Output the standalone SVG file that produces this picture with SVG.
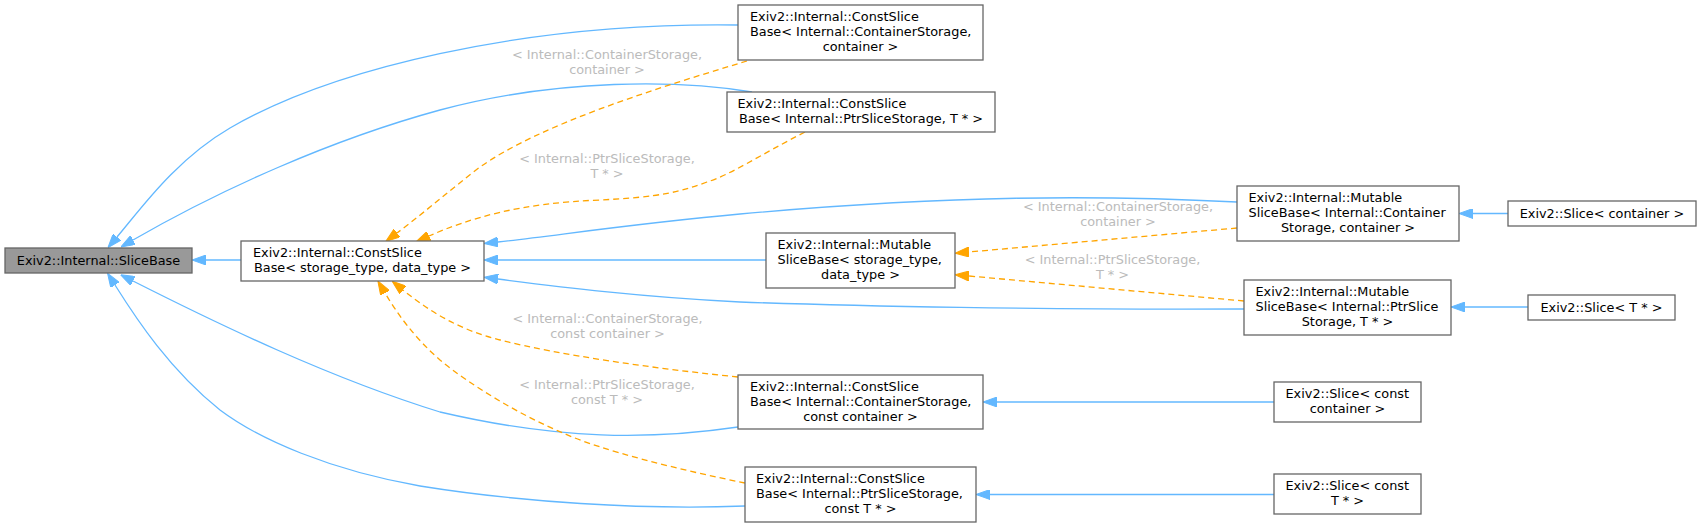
<svg xmlns="http://www.w3.org/2000/svg" width="1701" height="527" viewBox="0 0 1701 527">
<style>
.node rect{fill:#ffffff;stroke:#666666;stroke-width:1.3}
.node.root rect{fill:#999999}
text{font-family:"DejaVu Sans","Liberation Sans",sans-serif;font-size:12.85px;fill:#000000}
.m{text-anchor:middle}
.lbl{fill:#bbbbbb;text-anchor:middle}
.inh{fill:none;stroke:#63b8ff;stroke-width:1.3}
.tpl{fill:none;stroke:#ffa500;stroke-width:1.3;stroke-dasharray:6,4}
</style>
<defs>
<marker id="ab" viewBox="0 0 14 10" refX="0" refY="5" markerWidth="14" markerHeight="10" markerUnits="userSpaceOnUse" orient="auto"><path d="M0,0 L14,5 L0,10 z" fill="#63b8ff" stroke="#63b8ff" stroke-width="1"/></marker>
<marker id="ao" viewBox="0 0 14 10" refX="0" refY="5" markerWidth="14" markerHeight="10" markerUnits="userSpaceOnUse" orient="auto"><path d="M0,0 L14,5 L0,10 z" fill="#ffa500" stroke="#ffa500" stroke-width="1"/></marker>
</defs>
<rect width="1701" height="527" fill="#ffffff"/>
<g id="connectors">
<path class="inh" marker-end="url(#ab)" d="M241,260 L206,260"/>
<path class="inh" marker-end="url(#ab)" d="M738,25 C520,22 330,70 230,128 C175,160 140,210 117,237"/>
<path class="inh" marker-end="url(#ab)" d="M752,92 C680,80 560,78 440,110 C330,140 220,190 133,240"/>
<path class="inh" marker-end="url(#ab)" d="M738,427 C650,440 560,440 440,412 C330,378 220,325 133,281"/>
<path class="inh" marker-end="url(#ab)" d="M745,506 C640,510 520,502 420,486 C330,470 260,440 220,410 C170,370 137,320 115,285"/>
<path class="inh" marker-end="url(#ab)" d="M766,260 L498,260"/>
<path class="inh" marker-end="url(#ab)" d="M1237,202 C1100,195 950,195 740,214 C640,223 560,235 498,242"/>
<path class="inh" marker-end="url(#ab)" d="M1244,309 C1050,310 850,306 740,302 C640,297 560,287 498,279"/>
<path class="inh" marker-end="url(#ab)" d="M1508,213.5 L1473,213.5"/>
<path class="inh" marker-end="url(#ab)" d="M1528,307 L1465,307"/>
<path class="inh" marker-end="url(#ab)" d="M1274,402 L997,402"/>
<path class="inh" marker-end="url(#ab)" d="M1274,494.5 L990,494.5"/>
<path class="tpl" marker-end="url(#ao)" d="M747,61 C650,90 540,125 480,167 C450,190 425,212 397,233"/>
<path class="tpl" marker-end="url(#ao)" d="M805,132 C760,155 730,175 707,182 C680,192 660,197 600,200 C520,203 470,218 429,236"/>
<path class="tpl" marker-end="url(#ao)" d="M738,377 C650,368 560,355 500,340 C460,330 430,312 403,290"/>
<path class="tpl" marker-end="url(#ao)" d="M745,483 C680,470 600,450 563,433 C520,415 470,385 440,360 C415,338 398,315 385,293"/>
<path class="tpl" marker-end="url(#ao)" d="M1237,228 L969,252"/>
<path class="tpl" marker-end="url(#ao)" d="M1244,301 L969,276"/>
<text class="lbl" x="607" y="59">&lt; Internal::ContainerStorage,</text>
<text class="lbl" x="607" y="74">container &gt;</text>
<text class="lbl" x="607" y="163">&lt; Internal::PtrSliceStorage,</text>
<text class="lbl" x="607" y="178">T * &gt;</text>
<text class="lbl" x="607.5" y="323">&lt; Internal::ContainerStorage,</text>
<text class="lbl" x="607.5" y="338">const container &gt;</text>
<text class="lbl" x="607" y="389">&lt; Internal::PtrSliceStorage,</text>
<text class="lbl" x="607" y="404">const T * &gt;</text>
<text class="lbl" x="1118" y="211">&lt; Internal::ContainerStorage,</text>
<text class="lbl" x="1118" y="226">container &gt;</text>
<text class="lbl" x="1112.5" y="264">&lt; Internal::PtrSliceStorage,</text>
<text class="lbl" x="1112.5" y="279">T * &gt;</text>
</g>
<g id="n_slicebase" class="node root"><rect x="5" y="248" width="187" height="25"/><text class="m" x="98.5" y="264.5">Exiv2::Internal::SliceBase</text></g>
<g id="n_constslicebase" class="node"><rect x="241" y="241" width="243" height="40"/><text x="253" y="257">Exiv2::Internal::ConstSlice</text><text class="m" x="362.5" y="272">Base&lt; storage_type, data_type &gt;</text></g>
<g id="n_csb_container" class="node"><rect x="738" y="5" width="245" height="55"/><text x="750" y="21">Exiv2::Internal::ConstSlice</text><text x="750" y="36">Base&lt; Internal::ContainerStorage,</text><text class="m" x="860.5" y="51">container &gt;</text></g>
<g id="n_csb_ptr" class="node"><rect x="727" y="92" width="268" height="40"/><text x="737.5" y="108">Exiv2::Internal::ConstSlice</text><text class="m" x="861" y="123">Base&lt; Internal::PtrSliceStorage, T * &gt;</text></g>
<g id="n_mutable" class="node"><rect x="766" y="233" width="189" height="55"/><text x="777.5" y="249">Exiv2::Internal::Mutable</text><text x="777.5" y="264">SliceBase&lt; storage_type,</text><text class="m" x="860.5" y="279">data_type &gt;</text></g>
<g id="n_msb_container" class="node"><rect x="1237" y="186" width="222" height="55"/><text x="1248.5" y="202">Exiv2::Internal::Mutable</text><text x="1248.5" y="217">SliceBase&lt; Internal::Container</text><text class="m" x="1348" y="232">Storage, container &gt;</text></g>
<g id="n_msb_ptr" class="node"><rect x="1244" y="280" width="207" height="55"/><text x="1255.5" y="296">Exiv2::Internal::Mutable</text><text x="1255.5" y="311">SliceBase&lt; Internal::PtrSlice</text><text class="m" x="1347.5" y="326">Storage, T * &gt;</text></g>
<g id="n_slice_container" class="node"><rect x="1508" y="201" width="188" height="25"/><text class="m" x="1602" y="217.5">Exiv2::Slice&lt; container &gt;</text></g>
<g id="n_slice_ptr" class="node"><rect x="1528" y="295" width="147" height="25"/><text class="m" x="1601.5" y="311.5">Exiv2::Slice&lt; T * &gt;</text></g>
<g id="n_csb_const_container" class="node"><rect x="738" y="375" width="245" height="54"/><text x="750" y="391">Exiv2::Internal::ConstSlice</text><text x="750" y="406">Base&lt; Internal::ContainerStorage,</text><text class="m" x="860.5" y="421">const container &gt;</text></g>
<g id="n_csb_const_ptr" class="node"><rect x="745" y="467" width="231" height="55"/><text x="756" y="483">Exiv2::Internal::ConstSlice</text><text x="756" y="498">Base&lt; Internal::PtrSliceStorage,</text><text class="m" x="860.5" y="513">const T * &gt;</text></g>
<g id="n_slice_const_container" class="node"><rect x="1274" y="382" width="147" height="40"/><text x="1285.5" y="398">Exiv2::Slice&lt; const</text><text class="m" x="1347.5" y="413">container &gt;</text></g>
<g id="n_slice_const_ptr" class="node"><rect x="1274" y="474" width="147" height="40"/><text x="1285.5" y="490">Exiv2::Slice&lt; const</text><text class="m" x="1347.5" y="505">T * &gt;</text></g>
</svg>
